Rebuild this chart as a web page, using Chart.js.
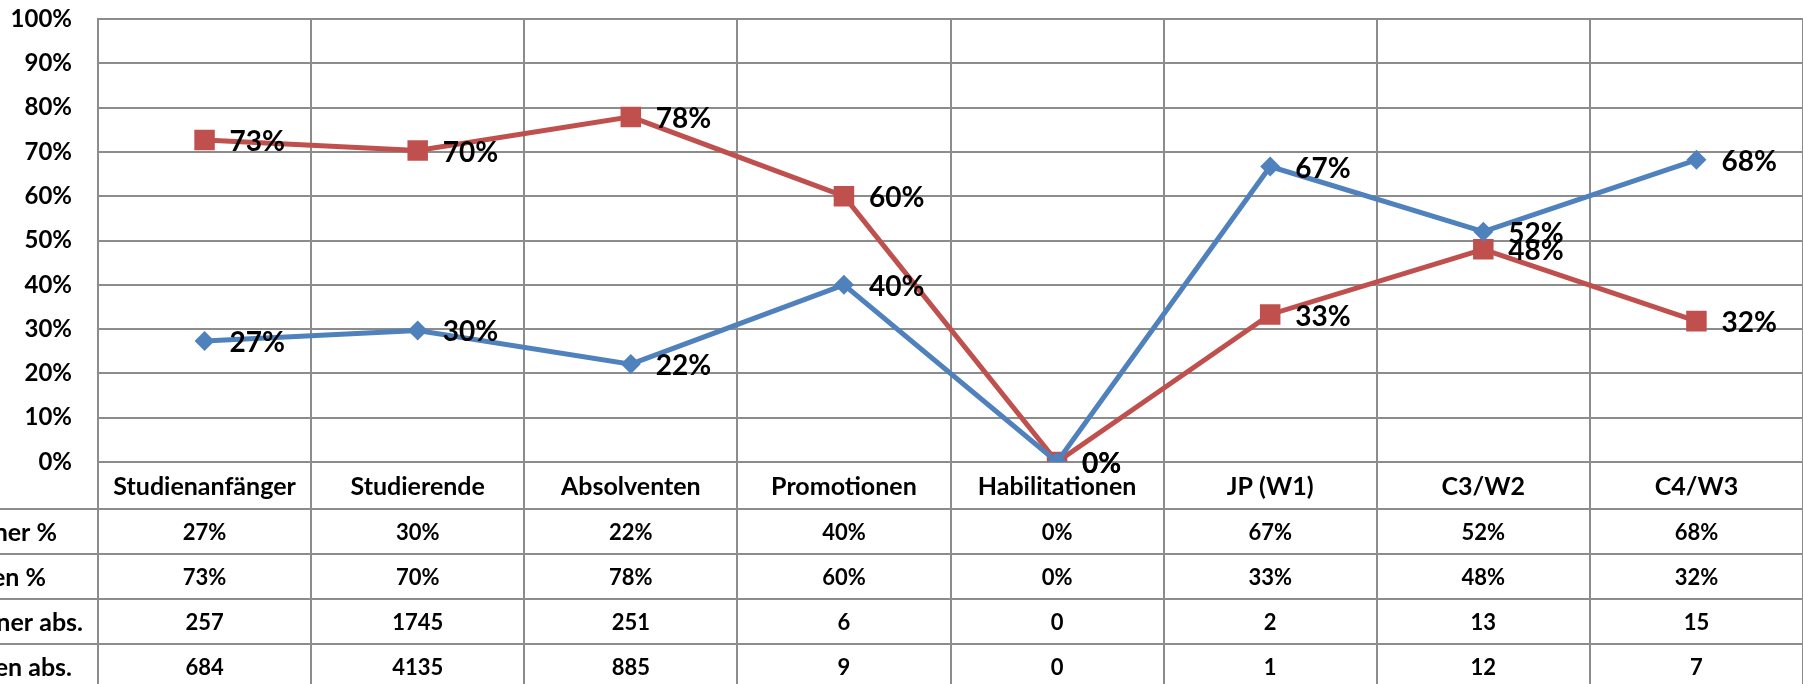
<!DOCTYPE html>
<html>
<head>
<meta charset="utf-8">
<script src="https://cdn.jsdelivr.net/npm/chart.js@4/dist/chart.umd.min.js"></script>
<style>
  body { margin: 0; background: #fff; }
  canvas { display: block; }
</style>
</head>
<body>
<canvas id="genderChart" width="1803" height="684"></canvas>
<script>
const categories = ['Studienanfänger', 'Studierende', 'Absolventen', 'Promotionen', 'Habilitationen', 'JP (W1)', 'C3/W2', 'C4/W3'];
const menPct = [27.3, 29.7, 22.1, 40, 0, 66.7, 52, 68.2];
const womenPct = [72.7, 70.3, 77.9, 60, 0, 33.3, 48, 31.8];
const menAbs = [257, 1745, 251, 6, 0, 2, 13, 15];
const womenAbs = [684, 4135, 885, 9, 0, 1, 12, 7];
const rowNames = ['Männer %', 'Frauen %', 'Männer abs.', 'Frauen abs.'];

const BLUE = '#4f81bd';
const RED = '#c0504d';
const GRID = '#8c8c8c';
const FONT = 'Lato, "Open Sans", sans-serif';

// Zeilen der Datentabelle unter dem Diagramm
const tableRows = [
    menPct.map(v => Math.round(v) + '%'),
    womenPct.map(v => Math.round(v) + '%'),
    menAbs.map(v => String(v)),
    womenAbs.map(v => String(v))
];
// sichtbares Ende der (links abgeschnittenen) Zeilenköpfe
const rowHeadEnd = [57, 46, 83, 72];

const tablePlugin = {
    id: 'tablePlugin',
    afterDraw(chart) {
        const { ctx, chartArea, scales } = chart;
        const x = scales.x;
        const W = chart.width;
        const top = chartArea.bottom;
        const catRowH = 47;
        const rowH = 45;
        const step = x.getPixelForValue(1) - x.getPixelForValue(0);

        ctx.save();
        ctx.strokeStyle = GRID;
        ctx.lineWidth = 2;

        // vertikale Linien durch die Tabelle
        for (let i = 0; i <= categories.length; i++) {
            const px = Math.round(x.getPixelForValue(0) - step / 2 + i * step);
            ctx.beginPath();
            ctx.moveTo(px, top);
            ctx.lineTo(px, chart.height);
            ctx.stroke();
        }
        // horizontale Linien
        for (let r = 0; r < 4; r++) {
            const py = Math.round(top + catRowH + r * rowH);
            ctx.beginPath();
            ctx.moveTo(0, py);
            ctx.lineTo(W, py);
            ctx.stroke();
        }

        ctx.fillStyle = '#000';
        ctx.textAlign = 'center';
        ctx.textBaseline = 'middle';
        ctx.font = 'bold 25px ' + FONT;
        categories.forEach((c, i) => {
            ctx.fillText(c, x.getPixelForValue(i), top + catRowH / 2 + 1);
        });

        ctx.font = 'bold 22px ' + FONT;
        tableRows.forEach((row, r) => {
            const cy = top + catRowH + r * rowH + rowH / 2 + 1;
            row.forEach((v, i) => ctx.fillText(v, x.getPixelForValue(i), cy));
        });

        ctx.font = 'bold 25px ' + FONT;
        ctx.textAlign = 'right';
        rowNames.forEach((n, r) => {
            const cy = top + catRowH + r * rowH + rowH / 2 + 1;
            ctx.fillText(n, rowHeadEnd[r], cy);
        });

        // Datenbeschriftungen rechts neben den Punkten
        ctx.font = 'bold 28px ' + FONT;
        ctx.textAlign = 'left';
        chart.data.datasets.forEach((ds, di) => {
            const meta = chart.getDatasetMeta(di);
            meta.data.forEach((pt, i) => {
                ctx.fillText(Math.round(ds.data[i]) + '%', pt.x + 25, pt.y + 2);
            });
        });
        ctx.restore();
    }
};

new Chart(document.getElementById('genderChart').getContext('2d'), {
    type: 'line',
    data: {
        labels: categories,
        datasets: [
            {
                label: 'Männer %',
                data: menPct,
                borderColor: BLUE,
                backgroundColor: BLUE,
                borderWidth: 5,
                pointStyle: 'rectRot',
                pointRadius: 10,
                pointBorderWidth: 0,
                tension: 0
            },
            {
                label: 'Frauen %',
                data: womenPct,
                borderColor: RED,
                backgroundColor: RED,
                borderWidth: 5,
                pointStyle: 'rect',
                pointRadius: 14.5,
                pointBorderWidth: 0,
                tension: 0
            }
        ]
    },
    options: {
        responsive: false,
        animation: false,
        devicePixelRatio: 1,
        layout: { autoPadding: false, padding: { top: 19, right: 0, bottom: 222, left: 0 } },
        plugins: {
            legend: { display: false },
            tooltip: { enabled: false }
        },
        scales: {
            x: {
                offset: true,
                grid: { offset: true, color: GRID, lineWidth: 2, drawTicks: false },
                border: { color: GRID, width: 2 },
                ticks: { display: false }
            },
            y: {
                min: 0,
                max: 100,
                ticks: {
                    stepSize: 10,
                    padding: 26,
                    color: '#000',
                    font: { family: FONT, size: 24, weight: 'bold' },
                    callback: v => v + '%'
                },
                grid: { color: GRID, lineWidth: 2, drawTicks: false },
                border: { color: GRID, width: 2 },
                afterFit(scale) {
                    scale.width = 98;
                    scale.paddingTop = 0;
                    scale.paddingBottom = 0;
                }
            }
        }
    },
    plugins: [tablePlugin]
});
</script>
</body>
</html>
